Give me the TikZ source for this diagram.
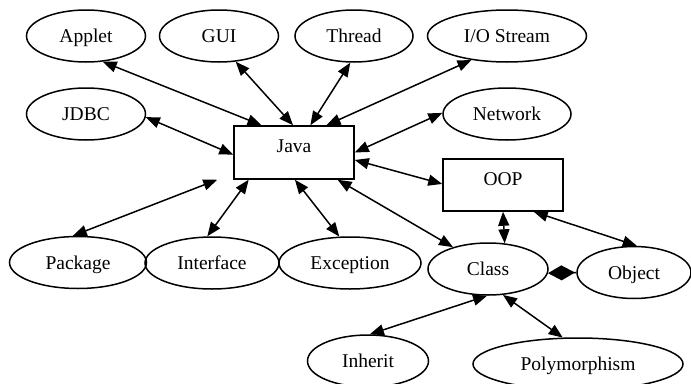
\documentclass[tikz,border=0pt]{standalone}
\usepackage{fontspec}
\setmainfont{Liberation Serif}
\usetikzlibrary{arrows.meta,shapes.geometric,calc}

\begin{document}
\begin{tikzpicture}[x=1pt,y=-1pt,line width=1.5pt,font=\fontsize{19.5}{22}\selectfont,
  topic/.style={ellipse,draw,inner sep=0pt,minimum height=52pt,text height=13pt,text depth=0pt},
  unit/.style={rectangle,draw,inner sep=0pt,minimum width=120pt,text height=26.5pt,text depth=26.5pt},
  link/.style={{Triangle[length=14pt,width=11pt]}-{Triangle[length=14pt,width=11pt]}}]
  \useasboundingbox (0,0) rectangle (691,383);
  \node[topic,minimum width=119pt] (applet) at (86,36) {Applet};
  \node[topic,minimum width=119pt] (gui) at (219,36) {GUI};
  \node[topic,minimum width=118pt] (thread) at (354,36) {Thread};
  \node[topic,minimum width=159pt] (io) at (507,36) {I/O Stream};
  \node[topic,minimum width=119pt] (jdbc) at (86,114) {JDBC};
  \node[topic,minimum width=128pt] (network) at (507,114) {Network};
  \node[unit] (java) at (294,152.5) {Java};
  \node[unit,text height=26pt,text depth=26pt] (oop) at (503,185) {OOP};
  \node[topic,minimum width=137pt] (package) at (78,262.5) {Package};
  \node[topic,minimum width=134pt] (interface) at (212,263) {Interface};
  \node[topic,minimum width=142pt] (exception) at (350,263) {Exception};
  \node[topic,minimum width=120pt] (class) at (488,269) {Class};
  \node[topic,minimum width=114pt] (object) at (634,272.5) {Object};
  \node[topic,minimum width=121pt] (inherit) at (368,361) {Inherit};
  \node[topic,minimum width=210pt] (poly) at (578,364) {Polymorphism};
  \draw[link] (applet.303) -- (java.140);
  \draw[link] (gui.303) -- (java.92);
  \draw[link] (thread.262) -- (java.59);
  \draw[link] (io.214) -- (java.40);
  \draw[link] (jdbc.357) -- (java.182);
  \draw[link] (network.179) -- (java.0);
  \draw[link] (oop.179) -- (java.-7);
  \draw[link] (package.101) -- ($(java.south west)+(-16,0)$);
  \draw[link] (interface.100) -- (java.211);
  \draw[link] (exception.112) -- (java.272);
  \draw[link] (class.148) -- (java.328);
  \draw[link] (oop.south) -- (class.57);
  \draw[link] (oop.319) -- (object.84);
  \draw[-{Diamond[length=27pt,width=15pt]}] (object.west) -- (class.-4);
  \draw[link] (class.268) -- (inherit.86);
  \draw[link] (class.300) -- (poly.120);
\end{tikzpicture}
\end{document}
